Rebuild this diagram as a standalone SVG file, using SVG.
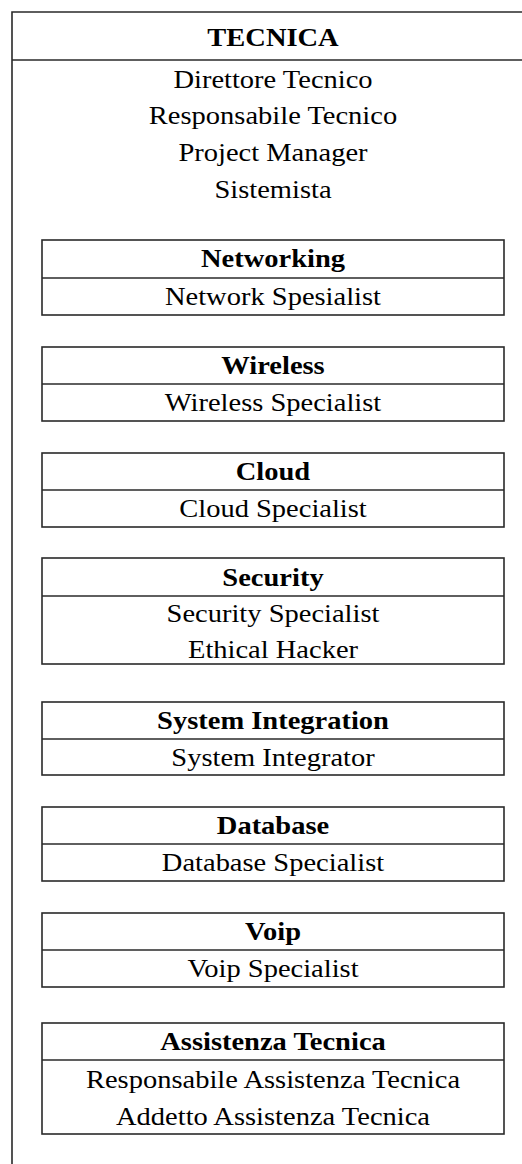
<svg xmlns="http://www.w3.org/2000/svg" width="522" height="1164" viewBox="0 0 522 1164">
<style>
.ln{fill:none;stroke:#2a2a2a;stroke-width:1.6}
.bx{fill:#fff;stroke:#2a2a2a;stroke-width:1.6}
text{font-family:"Liberation Serif","Times New Roman",serif;font-size:25px;fill:#000;text-anchor:middle}
.h{font-weight:bold}
</style>
<rect width="522" height="1164" fill="#fff"/>
<g id="tecnica">
<path class="ln" d="M12,1170 V12 H530 M12,60 H530"/>
<g transform="translate(273 0) scale(1.14 1)">
<text class="h" x="0" y="46.5">TECNICA</text>
<text x="0" y="88">Direttore Tecnico</text>
<text x="0" y="124.5">Responsabile Tecnico</text>
<text x="0" y="161.5">Project Manager</text>
<text x="0" y="198">Sistemista</text>
</g>
</g>
<g id="networking">
<rect class="bx" x="42" y="240" width="462" height="75"/>
<line class="ln" x1="42" y1="278" x2="504" y2="278"/>
<g transform="translate(273 0) scale(1.14 1)">
<text class="h" x="0" y="267">Networking</text>
<text x="0" y="305">Network Spesialist</text>
</g>
</g>
<g id="wireless">
<rect class="bx" x="42" y="347" width="462" height="74"/>
<line class="ln" x1="42" y1="384" x2="504" y2="384"/>
<g transform="translate(273 0) scale(1.14 1)">
<text class="h" x="0" y="374">Wireless</text>
<text x="0" y="411">Wireless Specialist</text>
</g>
</g>
<g id="cloud">
<rect class="bx" x="42" y="453" width="462" height="74"/>
<line class="ln" x1="42" y1="490" x2="504" y2="490"/>
<g transform="translate(273 0) scale(1.14 1)">
<text class="h" x="0" y="480">Cloud</text>
<text x="0" y="517">Cloud Specialist</text>
</g>
</g>
<g id="security">
<rect class="bx" x="42" y="558" width="462" height="106"/>
<line class="ln" x1="42" y1="596" x2="504" y2="596"/>
<g transform="translate(273 0) scale(1.14 1)">
<text class="h" x="0" y="586">Security</text>
<text x="0" y="622">Security Specialist</text>
<text x="0" y="658">Ethical Hacker</text>
</g>
</g>
<g id="system-integration">
<rect class="bx" x="42" y="702" width="462" height="73"/>
<line class="ln" x1="42" y1="739" x2="504" y2="739"/>
<g transform="translate(273 0) scale(1.14 1)">
<text class="h" x="0" y="729">System Integration</text>
<text x="0" y="766">System Integrator</text>
</g>
</g>
<g id="database">
<rect class="bx" x="42" y="807" width="462" height="74"/>
<line class="ln" x1="42" y1="844" x2="504" y2="844"/>
<g transform="translate(273 0) scale(1.14 1)">
<text class="h" x="0" y="834">Database</text>
<text x="0" y="871">Database Specialist</text>
</g>
</g>
<g id="voip">
<rect class="bx" x="42" y="913" width="462" height="74"/>
<line class="ln" x1="42" y1="950" x2="504" y2="950"/>
<g transform="translate(273 0) scale(1.14 1)">
<text class="h" x="0" y="940">Voip</text>
<text x="0" y="977">Voip Specialist</text>
</g>
</g>
<g id="assistenza-tecnica">
<rect class="bx" x="42" y="1023" width="462" height="111"/>
<line class="ln" x1="42" y1="1060" x2="504" y2="1060"/>
<g transform="translate(273 0) scale(1.14 1)">
<text class="h" x="0" y="1050.5">Assistenza Tecnica</text>
<text x="0" y="1088">Responsabile Assistenza Tecnica</text>
<text x="0" y="1125">Addetto Assistenza Tecnica</text>
</g>
</g>
<g id="connectors"></g>
</svg>
